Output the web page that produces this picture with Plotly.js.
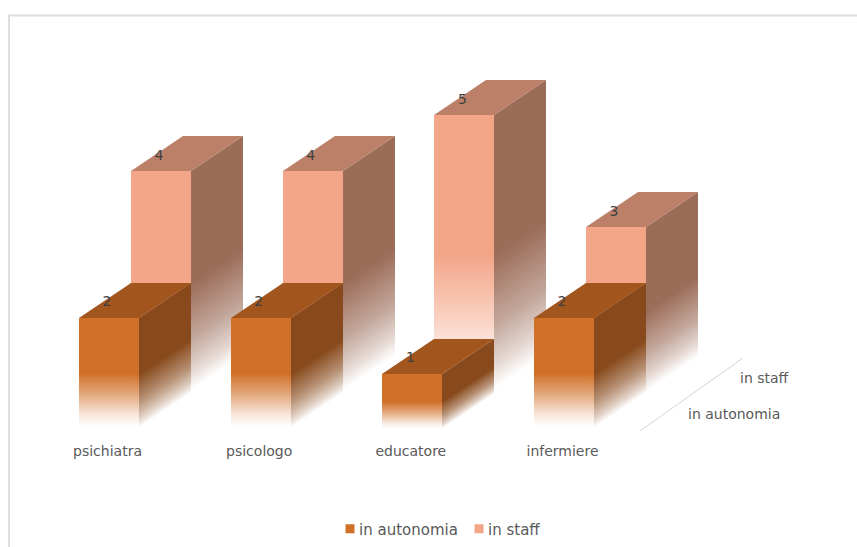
<!DOCTYPE html>
<html>
<head>
<meta charset="utf-8">
<script src="https://cdn.plot.ly/plotly-3.0.1.min.js"></script>
<style>html,body{margin:0;padding:0;background:#fff}#chart{width:857px;height:547px}</style>
</head>
<body>
<div id="chart"></div>
<script>
// Staff composition by role: a pseudo-3D column chart built from projected box faces.
const categories = ['psichiatra', 'psicologo', 'educatore', 'infermiere'];
const inAutonomia = [2, 2, 1, 2];
const inStaff = [4, 4, 5, 3];
const seriesNames = ['in autonomia', 'in staff'];

const palette = [
  {front: [209, 113, 41], top: [163, 85, 30], side: [136, 74, 28]},
  {front: [243, 165, 135], top: [188, 128, 105], side: [155, 108, 88]}
];

// Projection: category unit and value unit in pixels, plus the shift of one depth row.
const W = 857, H = 547, PLOT_BOTTOM = 441;
const CAT_PX = 151.67, VAL_PX = 56, ZERO_PX = 430, FIRST_CENTER_PX = 109;
const BAR_PX = 60, DEPTH_PX = 52;
const DX = DEPTH_PX / CAT_PX, DY = 35 / VAL_PX;
const xRange = [-FIRST_CENTER_PX / CAT_PX, (W - FIRST_CENTER_PX) / CAT_PX];
const yRange = [(ZERO_PX - PLOT_BOTTOM) / VAL_PX, ZERO_PX / VAL_PX];
const pxX = p => (p - FIRST_CENTER_PX) / CAT_PX;
const pxY = p => (ZERO_PX - p) / VAL_PX;

const rgb = c => `rgb(${c.map(Math.round).join(',')})`;
const rgba = (c, a) => `rgba(${c[0]},${c[1]},${c[2]},${a})`;
const toWhite = (c, a) => c.map(v => v * a + 255 * (1 - a));

// Opacity along a column, from its top (t = 0) to its foot (t = 1).
const frontFade = [[0, 1], [0.5, 1], [0.55, 0.88], [0.65, 0.68], [0.75, 0.45], [0.85, 0.2], [0.93, 0.06], [0.98, 0], [1, 0]];
const sideFade = [[0, 1], [0.5, 1], [0.75, 0.6], [0.9, 0.25], [0.98, 0], [1, 0]];
function fadeAt(stops, t) {
  for (let i = 1; i < stops.length; i++) {
    if (t <= stops[i][0]) {
      const [t0, a0] = stops[i - 1], [t1, a1] = stops[i];
      return a0 + (a1 - a0) * (t - t0) / (t1 - t0);
    }
  }
  return 0;
}

const face = (xs, ys, color) => ({
  type: 'scatter', mode: 'lines', x: xs, y: ys, fill: 'toself', fillcolor: color,
  line: {width: 0}, hoverinfo: 'skip', showlegend: false
});

function boxFaces(catIndex, row, value) {
  const col = palette[row];
  // Edges snap to whole pixels so the faces stay crisp.
  const leftPx = Math.round(FIRST_CENTER_PX + catIndex * CAT_PX - BAR_PX / 2 + row * DEPTH_PX);
  const x0 = pxX(leftPx), x1 = pxX(leftPx + BAR_PX), x2 = pxX(leftPx + BAR_PX + DEPTH_PX);
  const base = row * DY, top = base + value;
  const traces = [];

  // Side face: slanted bands parallel to the foot, each overlapping the next so no seams show.
  const BANDS = 40;
  const xs = [x1, x2, x2, x1, x1];
  const solidEnd = top - value * (0.5 + 1 / BANDS);
  traces.push(face(xs, [top, top + DY, solidEnd + DY, solidEnd, top], rgb(col.side)));
  for (let b = 0; b < BANDS; b++) {
    const t0 = 0.5 + 0.5 * b / BANDS;
    const t1 = Math.min(1, 0.5 + 0.5 * (b + 2) / BANDS);
    const a = fadeAt(sideFade, t0 + 0.25 / BANDS);
    const y0 = top - value * t0, y1 = top - value * t1;
    traces.push(face(xs, [y0, y0 + DY, y1 + DY, y1, y0], rgb(toWhite(col.side, a))));
  }

  // Top face.
  traces.push(face([x0, x1, x2, pxX(leftPx + DEPTH_PX), x0], [top, top, top + DY, top + DY, top], rgb(col.top)));

  // Front face with a vertical fade that ends at the foot of the column.
  const scale = frontFade.slice().reverse().map(([t, a]) => [1 - t, rgba(col.front, a)]);
  traces.push({
    type: 'scatter', mode: 'lines', x: [x0, x1, x1, x0, x0], y: [base, base, top, top, base],
    fill: 'toself', line: {width: 0}, hoverinfo: 'skip', showlegend: false,
    fillgradient: {type: 'vertical', colorscale: scale, start: base, stop: top}
  });
  return traces;
}

const data = [];
inStaff.forEach((v, i) => data.push(...boxFaces(i, 1, v)));
inAutonomia.forEach((v, i) => data.push(...boxFaces(i, 0, v)));

// Value labels above each box.
const labelTrace = (vals, row, lift) => ({
  type: 'scatter', mode: 'text', showlegend: false, hoverinfo: 'skip',
  x: vals.map((v, i) => i + row * DX - 2 / CAT_PX),
  y: vals.map(v => v + row * DY + lift),
  text: vals.map(String), textposition: 'middle center',
  textfont: {family: 'DejaVu Sans, sans-serif', size: 14, color: '#3f3f3f'}
});
data.push(labelTrace(inAutonomia, 0, 16 / VAL_PX), labelTrace(inStaff, 1, 14.5 / VAL_PX));

// Depth axis line running behind the last category.
data.push({
  type: 'scatter', mode: 'lines', showlegend: false, hoverinfo: 'skip',
  x: [pxX(640), pxX(743)], y: [pxY(431), pxY(358)],
  line: {color: '#d4d4d4', width: 1}
});

// Legend entries.
seriesNames.forEach((name, row) => data.push({
  type: 'scatter', mode: 'markers', name: name, x: [null], y: [null],
  marker: {symbol: 'square', size: 9, color: rgb(palette[row].front)}
}));

const paperY = p => (PLOT_BOTTOM - p) / PLOT_BOTTOM;
const frameLine = (x0, y0, x1, y1) => ({
  type: 'line', xref: 'paper', yref: 'paper',
  x0: x0 / W, x1: x1 / W, y0: paperY(y0), y1: paperY(y1),
  line: {color: '#dedede', width: 2}, layer: 'below'
});

const layout = {
  width: W, height: H, margin: {l: 0, r: 0, t: 0, b: H - PLOT_BOTTOM, pad: 0},
  paper_bgcolor: '#fff', plot_bgcolor: 'rgba(0,0,0,0)',
  font: {family: 'DejaVu Sans, sans-serif', size: 14, color: '#595959'},
  xaxis: {
    range: xRange, tickmode: 'array', tickvals: [0, 1, 2, 3].map(i => i - 1.5 / CAT_PX), ticktext: categories,
    showgrid: false, zeroline: false, showline: false, ticks: '', ticklen: 0,
    tickfont: {size: 14, color: '#595959'}, fixedrange: true
  },
  yaxis: {range: yRange, visible: false, fixedrange: true},
  showlegend: true,
  legend: {
    orientation: 'h', x: 0.5, xanchor: 'center', xref: 'container',
    y: 18 / H, yanchor: 'middle', yref: 'container',
    font: {size: 15, color: '#595959'}, itemclick: false, itemdoubleclick: false
  },
  annotations: [
    {text: seriesNames[1], xref: 'x', yref: 'y', x: pxX(764), y: pxY(378), showarrow: false},
    {text: seriesNames[0], xref: 'x', yref: 'y', x: pxX(734), y: pxY(414), showarrow: false}
  ],
  shapes: [frameLine(8, 15.5, W, 15.5), frameLine(9, 15, 9, H)]
};

Plotly.newPlot('chart', data, layout, {displayModeBar: false, staticPlot: true}).then(gd => {
  // Tighten the legend: swatches sit right next to their text and entries sit closer together.
  const TEXT_LEFT = [359, 488], SWATCH_CENTER = [350, 479];
  gd.querySelectorAll('.legend .traces').forEach((item, i) => {
    const text = item.querySelector('.legendtext');
    const symbols = item.querySelector('.legendsymbols');
    const dx = TEXT_LEFT[i] - text.getBoundingClientRect().left;
    const m = /translate\(\s*([-\d.]+)[ ,]+([-\d.]+)/.exec(item.getAttribute('transform'));
    item.setAttribute('transform', `translate(${parseFloat(m[1]) + dx},${m[2]})`);
    const box = symbols.getBoundingClientRect();
    symbols.setAttribute('transform', `translate(${SWATCH_CENTER[i] - (box.left + box.right) / 2},0)`);
  });
});
</script>
</body>
</html>
